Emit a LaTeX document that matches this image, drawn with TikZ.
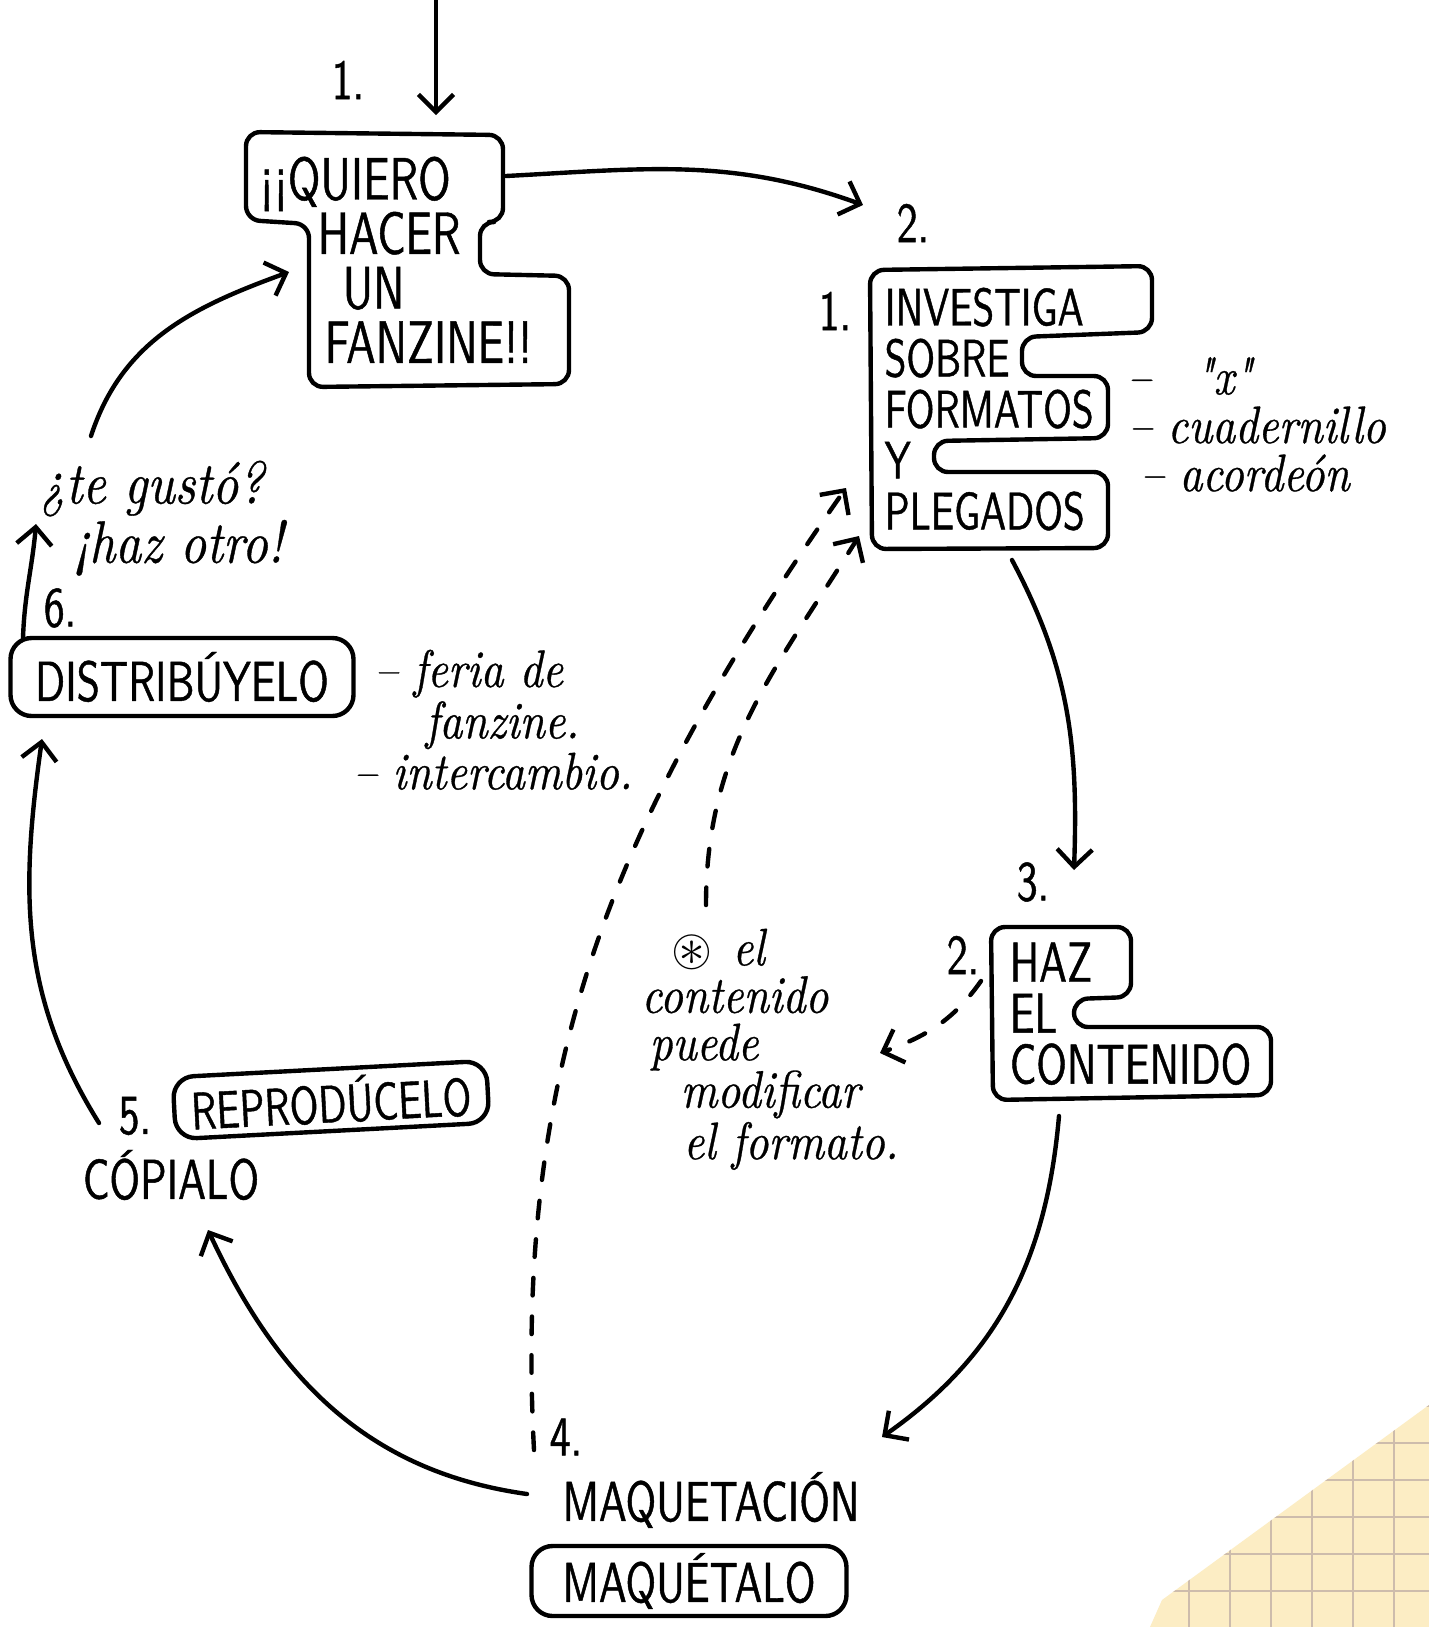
\documentclass[tikz,border=0pt]{standalone}
\usepackage{fontspec}
\usepackage{amssymb}
\usetikzlibrary{arrows.meta,positioning}
\newfontfamily\capsfont[FakeStretch=0.74,FakeBold=0.8]{lmsans10-regular.otf}
\newfontfamily\notefont[FakeStretch=0.85,FakeBold=0.6]{lmroman10-italic.otf}
\definecolor{paper}{RGB}{252,237,196}
\definecolor{paperline}{RGB}{205,188,172}
\tikzset{
  hand/.style={line width=1.25pt, line cap=round, line join=round},
  outline/.style={hand, rounded corners=4pt},
  caps/.style={font=\capsfont\fontsize{16}{14.5}\selectfont, align=left, inner sep=0pt},
  bigcaps/.style={font=\capsfont\fontsize{17}{15.5}\selectfont, align=left, inner sep=0pt},
  scrawl/.style={font=\notefont\fontsize{15}{12.5}\selectfont, align=left, inner sep=0pt},
  capbox/.style={caps, hand, draw, rounded corners=6pt},
  arr/.style={hand, -{Straight Barb[length=5pt,width=10pt]}},
  darr/.style={arr, dash pattern=on 5pt off 6pt},
}

\begin{document}
\begin{tikzpicture}[scale=1]
\fill[white] (0,0) rectangle (14.29,-16.27);
\useasboundingbox (0,0) rectangle (14.29,-16.27);
\begin{scope}
\clip (11.50,-16.27) -- (11.62,-16.00) -- (14.29,-14.05) -- (14.29,-16.27) -- cycle;
\fill[paper] (11.4,-16.3) rectangle (14.3,-14);
\draw[paperline, line width=0.5pt, xstep=0.41, ystep=0.37] (11.4,-16.3) grid (14.3,-14);
\end{scope}

\draw[outline] (2.46,-1.32) -- (5.03,-1.35) -- (5.03,-2.22) -- (4.80,-2.22) -- (4.80,-2.74) -- (5.69,-2.76) -- (5.69,-3.84) -- (3.09,-3.87) -- (3.09,-2.24) -- (2.46,-2.20) -- cycle;
\draw[outline] (8.70,-2.70) -- (11.52,-2.66) -- (11.52,-3.32) -- (10.22,-3.37) -- (10.22,-3.76) -- (11.08,-3.76) -- (11.08,-4.38) -- (9.34,-4.41) -- (9.34,-4.72) -- (11.08,-4.72) -- (11.08,-5.48) -- (8.72,-5.49) -- cycle;
\draw[outline] (9.91,-9.27) -- (11.31,-9.27) -- (11.31,-9.97) -- (10.74,-9.99) -- (10.74,-10.27) -- (12.71,-10.27) -- (12.71,-10.95) -- (9.93,-11.00) -- cycle;

\node[bigcaps, anchor=north west] (quiero) at (2.59,-1.56) {¡¡QUIERO\\\hspace*{0.58cm}HACER\\\hspace*{0.83cm}UN\\\hspace*{0.65cm}FANZINE!!};
\node[caps, font=\capsfont\fontsize{15}{14.5}\selectfont, anchor=north west] (investiga) at (8.84,-2.87) {INVESTIGA\\SOBRE\\FORMATOS\\Y\\PLEGADOS};
\node[caps, anchor=north west] (haz) at (10.09,-9.42) {HAZ\\EL\\CONTENIDO};
\node[capbox, minimum width=3.43cm, minimum height=0.78cm] (distrib) at (1.82,-6.77) {DISTRIBÚYELO};
\node[capbox, font=\capsfont\fontsize{15}{14.5}\selectfont, minimum width=3.14cm, minimum height=0.62cm, rotate=3] (reprod) at (3.31,-11.00) {REPRODÚCELO};
\node[capbox, minimum width=3.15cm, minimum height=0.70cm] (maquetalo) at (6.89,-15.81) {MAQUÉTALO};
\node[caps] (copialo) at (1.71,-11.75) {CÓPIALO};
\node[caps] (maquetacion) at (7.11,-15.00) {MAQUETACIÓN};

\node[caps] (n1) at (3.48,-0.80) {1.};
\node[caps] (n2) at (9.13,-2.23) {2.};
\node[caps] (m1) at (8.35,-3.11) {1.};
\node[caps] (n3) at (10.33,-8.82) {3.};
\node[caps] (m2) at (9.63,-9.55) {2.};
\node[caps] (n4) at (5.66,-14.37) {4.};
\node[caps] (n5) at (1.35,-11.16) {5.};
\node[caps] (n6) at (0.60,-6.08) {6.};

\node[scrawl, anchor=west] (fx) at (11.27,-3.76) {–\hspace*{0.45cm}"x"};
\node[scrawl, anchor=west] (fc) at (11.28,-4.25) {– cuadernillo};
\node[scrawl, anchor=west] (fa) at (11.40,-4.73) {– acordeón};
\node[scrawl, anchor=north west, font=\notefont\fontsize{15}{12}\selectfont] (feria) at (3.53,-6.49) {\hspace*{0.21cm}– feria de\\\hspace*{0.72cm}fanzine.\\– intercambio.};
\node[scrawl, anchor=north west, font=\notefont\fontsize{15}{13.5}\selectfont] (contenido) at (6.41,-9.28) {\hspace*{0.30cm}$\circledast$\hspace{0.04cm} el\\contenido\\\hspace*{0.08cm}puede\\\hspace*{0.39cm}modificar\\\hspace*{0.42cm}el formato.};
\node[scrawl, anchor=north west, font=\notefont\fontsize{17}{14.5}\selectfont] (gusto) at (0.39,-4.60) {¿te gustó?\\\hspace*{0.34cm}¡haz otro!};

\coordinate (entry) at (4.36,0);
\coordinate (quiero-top) at (4.36,-1.15);
\coordinate (quiero-out) at (5.06,-1.76);
\coordinate (quiero-in) at (2.89,-2.72);
\coordinate (investiga-in) at (8.63,-2.05);
\coordinate (investiga-out) at (10.12,-5.60);
\coordinate (investiga-back) at (8.46,-4.88);
\coordinate (investiga-back2) at (8.59,-5.36);
\coordinate (haz-in) at (10.74,-8.70);
\coordinate (haz-side) at (9.81,-9.81);
\coordinate (haz-out) at (10.59,-11.16);
\coordinate (contenido-in) at (8.80,-10.53);
\coordinate (contenido-top) at (7.06,-9.05);
\coordinate (maq-in) at (8.82,-14.37);
\coordinate (maq-out) at (5.27,-14.94);
\coordinate (maq-back) at (5.34,-14.50);
\coordinate (copialo-in) at (2.08,-12.30);
\coordinate (reprod-out) at (0.99,-11.23);
\coordinate (distrib-in) at (0.42,-7.39);
\coordinate (distrib-out) at (0.23,-6.38);
\coordinate (gusto-in) at (0.36,-5.24);
\coordinate (gusto-out) at (0.91,-4.36);

\draw[arr] (entry) -- (quiero-top);
\draw[arr] (quiero-out) to[out=3,in=160] (investiga-in);
\draw[arr] (investiga-out) to[out=-62,in=88] (haz-in);
\draw[darr] (haz-side) to[out=235,in=20] (contenido-in);
\draw[darr] (contenido-top) to[out=90,in=238] (investiga-back2);
\draw[darr] (maq-back) to[out=93,in=235] (investiga-back);
\draw[arr] (haz-out) to[out=-95,in=35] (maq-in);
\draw[arr] (maq-out) to[out=172,in=-65] (copialo-in);
\draw[arr] (reprod-out) to[out=122,in=-98] (distrib-in);
\draw[arr] (distrib-out) to[out=88,in=-95] (gusto-in);
\draw[arr] (gusto-out) to[out=72,in=200] (quiero-in);
\end{tikzpicture}
\end{document}
